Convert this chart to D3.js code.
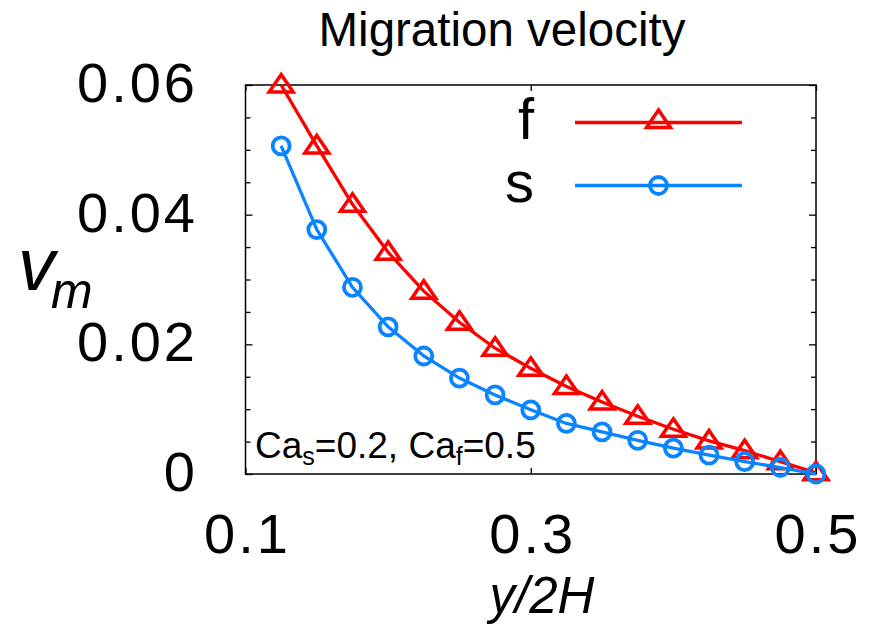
<!DOCTYPE html>
<html>
<head>
<meta charset="utf-8">
<script src="https://cdn.jsdelivr.net/npm/d3@7"></script>
<style>
  html, body { margin: 0; padding: 0; background: #fff; }
  svg { display: block; font-family: "Liberation Sans", Arial, sans-serif; }
</style>
</head>
<body>
<svg id="chart" width="876" height="624"></svg>
<script>
// ---- data ----
const positions = [0.125, 0.15, 0.175, 0.2, 0.225, 0.25, 0.275, 0.3, 0.325, 0.35, 0.375, 0.4, 0.425, 0.45, 0.475, 0.5];
const seriesF = [0.0600, 0.0506, 0.0416, 0.0342, 0.0282, 0.0234, 0.0194, 0.0163, 0.0135, 0.0111, 0.0089, 0.0069, 0.0051, 0.0036, 0.0019, 0.0002];
const seriesS = [0.0506, 0.0377, 0.0288, 0.0227, 0.0182, 0.0148, 0.0122, 0.0099, 0.0078, 0.0065, 0.0052, 0.0040, 0.0029, 0.0019, 0.0010, 0.0000];
const seriesNames = ["f", "s"];
const xTickValues = [0.1, 0.3, 0.5];
const xTickLabels = ["0.1", "0.3", "0.5"];
const yTickValues = [0, 0.02, 0.04, 0.06];
const yTickLabels = ["0", "0.02", "0.04", "0.06"];
const yMinorTicks = [0.005, 0.01, 0.015, 0.025, 0.03, 0.035, 0.045, 0.05, 0.055];

const svg = d3.select("#chart");
const pLeft = 245.5, pRight = 816, pTop = 85, pBottom = 474;
const x = d3.scaleLinear().domain([0.1, 0.5]).range([pLeft, pRight]);
const y = d3.scaleLinear().domain([0, 0.06]).range([pBottom, pTop]);

const RED = "#ff0000", BLUE = "#0a84ff";

// title
svg.append("text").attr("x", 502).attr("y", 46).attr("text-anchor", "middle")
  .attr("font-size", 47.5).attr("fill", "#000").text("Migration velocity");

// frame
svg.append("rect").attr("x", pLeft).attr("y", pTop).attr("width", pRight - pLeft).attr("height", pBottom - pTop)
  .attr("fill", "none").attr("stroke", "#000").attr("stroke-width", 1.5);

// y ticks (inward, both sides)
const yAxisL = d3.axisLeft(y).tickValues(yTickValues).tickSize(-7).tickFormat("");
const yAxisR = d3.axisRight(y).tickValues(yTickValues).tickSize(-7).tickFormat("");
const yMinL = d3.axisLeft(y).tickValues(yMinorTicks).tickSize(-5).tickFormat("");
const yMinR = d3.axisRight(y).tickValues(yMinorTicks).tickSize(-5).tickFormat("");
[[yAxisL, pLeft], [yMinL, pLeft], [yAxisR, pRight], [yMinR, pRight]].forEach(([ax, tx]) => {
  const g = svg.append("g").attr("transform", `translate(${tx},0)`).call(ax);
  g.select(".domain").remove();
  g.selectAll("line").attr("stroke", "#000").attr("stroke-width", 1.3);
});
// x ticks (inward, top and bottom)
const xAxisB = d3.axisBottom(x).tickValues(xTickValues).tickSize(-6).tickFormat("");
const xAxisT = d3.axisTop(x).tickValues(xTickValues).tickSize(-6).tickFormat("");
[[xAxisB, pBottom], [xAxisT, pTop]].forEach(([ax, ty]) => {
  const g = svg.append("g").attr("transform", `translate(0,${ty})`).call(ax);
  g.select(".domain").remove();
  g.selectAll("line").attr("stroke", "#000").attr("stroke-width", 1.3);
});

// tick labels
svg.append("g").selectAll("text").data(yTickValues).join("text")
  .attr("x", 198).attr("y", d => y(d) + 17).attr("text-anchor", "end")
  .attr("font-size", 56).attr("letter-spacing", 3).attr("fill", "#000")
  .text((d, i) => yTickLabels[i]);
svg.append("g").selectAll("text").data(xTickValues).join("text")
  .attr("x", d => x(d) + 2).attr("y", 553).attr("text-anchor", "middle")
  .attr("font-size", 56).attr("letter-spacing", 3).attr("fill", "#000")
  .text((d, i) => xTickLabels[i]);

// axis labels
svg.append("text").attr("x", 542).attr("y", 613).attr("text-anchor", "middle")
  .attr("font-size", 51).attr("font-style", "italic").attr("fill", "#000").text("y/2H");
const vl = svg.append("text").attr("x", 18).attr("y", 290).attr("font-style", "italic").attr("fill", "#000");
vl.append("tspan").attr("font-size", 74).text("v");
vl.append("tspan").attr("font-size", 50).attr("dy", 18).attr("dx", -4).text("m");

// annotation
const ann = svg.append("text").attr("x", 255).attr("y", 458).attr("font-size", 37).attr("fill", "#000");
ann.append("tspan").text("Ca");
ann.append("tspan").attr("font-size", 25).attr("dy", 7).text("s");
ann.append("tspan").attr("dy", -7).text("=0.2, Ca");
ann.append("tspan").attr("font-size", 25).attr("dy", 7).text("f");
ann.append("tspan").attr("dy", -7).text("=0.5");

// markers
const triPath = "M0,-10.5 L12,7 L-12,7 Z";
function drawSeries(vals, color, kind) {
  const pts = positions.map((p, i) => [x(p), y(vals[i])]);
  svg.append("path").attr("d", d3.line()(pts)).attr("fill", "none")
    .attr("stroke", color).attr("stroke-width", 3.3);
  const g = svg.append("g");
  if (kind === "tri") {
    g.selectAll("path").data(pts).join("path")
      .attr("transform", d => `translate(${d[0]},${d[1]})`).attr("d", triPath)
      .attr("fill", "none").attr("stroke", color).attr("stroke-width", 3.5).attr("stroke-linejoin", "miter");
  } else {
    g.selectAll("circle").data(pts).join("circle")
      .attr("cx", d => d[0]).attr("cy", d => d[1]).attr("r", 8.5)
      .attr("fill", "none").attr("stroke", color).attr("stroke-width", 3.8);
  }
}
drawSeries(seriesF, RED, "tri");
drawSeries(seriesS, BLUE, "circ");

// legend
const legend = [{name: seriesNames[0], color: RED, kind: "tri", ly: 122.5},
                {name: seriesNames[1], color: BLUE, kind: "circ", ly: 185.5}];
legend.forEach(l => {
  svg.append("text").attr("x", 534).attr("y", l.ly + 16).attr("text-anchor", "end")
    .attr("font-size", 58).attr("fill", "#000").text(l.name);
  svg.append("line").attr("x1", 575).attr("x2", 742).attr("y1", l.ly).attr("y2", l.ly)
    .attr("stroke", l.color).attr("stroke-width", 3.3);
  if (l.kind === "tri") {
    svg.append("path").attr("transform", `translate(658.5,${l.ly - 2})`).attr("d", triPath)
      .attr("fill", "none").attr("stroke", l.color).attr("stroke-width", 3.5);
  } else {
    svg.append("circle").attr("cx", 658.5).attr("cy", l.ly).attr("r", 8.5)
      .attr("fill", "none").attr("stroke", l.color).attr("stroke-width", 3.8);
  }
});
</script>
</body>
</html>
